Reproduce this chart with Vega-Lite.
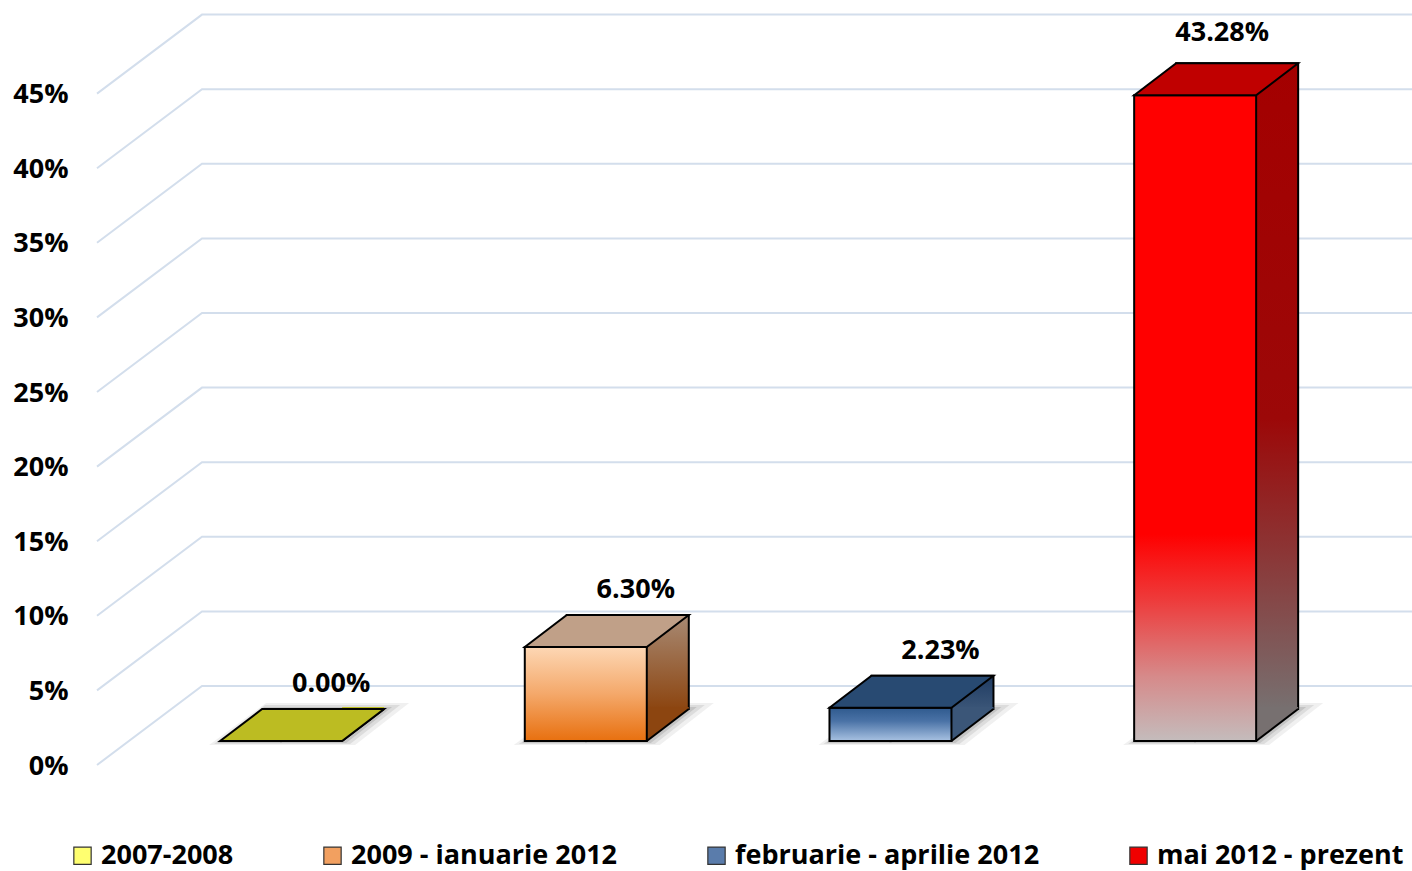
{
  "$schema": "https://vega.github.io/schema/vega-lite/v6.json",
  "width": 1315,
  "height": 727,
  "autosize": {"type": "none"},
  "padding": {"left": 97, "top": 14, "right": 0, "bottom": 130},
  "background": "white",
  "config": {"view": {"stroke": null}, "font": "Open Sans"},
  "datasets": {
    "bars": [
      {"period": "2007-2008", "share": 0.0},
      {"period": "2009 - ianuarie 2012", "share": 0.063},
      {"period": "februarie - aprilie 2012", "share": 0.0223},
      {"period": "mai 2012 - prezent", "share": 0.4328}
    ],
    "grid": [
      {"tick": 0}, {"tick": 0.05}, {"tick": 0.1}, {"tick": 0.15}, {"tick": 0.2},
      {"tick": 0.25}, {"tick": 0.3}, {"tick": 0.35}, {"tick": 0.4}, {"tick": 0.45}
    ]
  },
  "data": {"name": "bars"},
  "resolve": {"scale": {"fill": "independent"}},
  "layer": [
    {
      "data": {"name": "grid"},
      "mark": {"type": "point", "shape": "M-657.5,24 L-552.5,-55 L657.5,-55", "size": 4, "filled": false, "stroke": "#d3deec", "strokeWidth": 2, "opacity": 1},
      "encoding": {
        "y": {
          "field": "tick", "type": "quantitative",
          "scale": {"domain": [0, 0.48727], "nice": false, "zero": true},
          "axis": {
            "values": [0, 0.05, 0.1, 0.15, 0.2, 0.25, 0.3, 0.35, 0.4, 0.45],
            "format": ".0%", "title": null, "domain": false, "ticks": false, "grid": false,
            "labelOffset": 25, "labelPadding": 29, "labelFont": "Open Sans", "labelFontSize": 27,
            "labelFontWeight": "bold", "labelColor": "#000000"
          }
        }
      }
    },
    {
      "mark": {"type": "point", "shape": "square", "filled": true, "size": 1, "opacity": 1, "stroke": "#333333", "strokeWidth": 1.2},
      "encoding": {
        "x": {"field": "period", "type": "nominal", "sort": null, "axis": null, "scale": {"paddingInner": 0, "paddingOuter": 0.158, "align": 0.33}},
        "y": {"datum": 0, "type": "quantitative"},
        "fill": {
          "field": "period", "type": "nominal", "sort": null,
          "scale": {"domain": ["2007-2008", "2009 - ianuarie 2012", "februarie - aprilie 2012", "mai 2012 - prezent"], "range": ["#ffff70", "#f2a060", "#5a7cab", "#f00000"]},
          "legend": {
            "orient": "none", "legendX": -28, "legendY": 828, "direction": "horizontal", "columns": 4,
            "title": null, "symbolType": "square", "symbolSize": 300, "symbolStrokeColor": "#333333", "symbolStrokeWidth": 1.2,
            "labelFont": "Open Sans", "labelFontSize": 27, "labelFontWeight": "bold", "labelColor": "#000000",
            "labelOffset": 5, "columnPadding": 85, "labelLimit": 500
          }
        }
      }
    },
    {
      "mark": {"type": "point", "shape": "M-72,4 L-15,-38 L128,-38 L74,4 Z", "size": 4, "filled": true, "opacity": 0.07, "fill": "#303030", "strokeWidth": 0},
      "encoding": {"x": {"field": "period", "type": "nominal", "sort": null, "axis": null}, "y": {"datum": 0, "type": "quantitative"}}
    },
    {
      "mark": {"type": "point", "shape": "M-67,3 L-16,-36 L119,-36 L69,3 Z", "size": 4, "filled": true, "opacity": 0.1, "fill": "#303030", "strokeWidth": 0},
      "encoding": {"x": {"field": "period", "type": "nominal", "sort": null, "axis": null}, "y": {"datum": 0, "type": "quantitative"}}
    },
    {
      "mark": {"type": "point", "shape": "M-64,2 L-17,-34 L111,-34 L65,2 Z", "size": 4, "filled": true, "opacity": 0.14, "fill": "#303030", "strokeWidth": 0},
      "encoding": {"x": {"field": "period", "type": "nominal", "sort": null, "axis": null}, "y": {"datum": 0, "type": "quantitative"}}
    },
    {
      "transform": [{"filter": "datum.period === '2009 - ianuarie 2012'"}],
      "mark": {"type": "bar", "width": 122, "xOffset": 42, "yOffset": -32, "y2Offset": -32, "stroke": "#000000", "strokeWidth": 2,
        "fill": {"gradient": "linear", "x1": 0, "y1": 0, "x2": 0, "y2": 1, "stops": [{"offset": 0, "color": "#a88a74"}, {"offset": 1, "color": "#8c4510"}]}},
      "encoding": {"x": {"field": "period", "type": "nominal", "sort": null, "axis": null}, "y": {"field": "share", "type": "quantitative"}}
    },
    {
      "transform": [{"filter": "datum.period === 'februarie - aprilie 2012'"}],
      "mark": {"type": "bar", "width": 122, "xOffset": 42, "yOffset": -32, "y2Offset": -32, "stroke": "#000000", "strokeWidth": 2,
        "fill": {"gradient": "linear", "x1": 0, "y1": 0, "x2": 0, "y2": 1, "stops": [{"offset": 0, "color": "#1f3b62"}, {"offset": 1, "color": "#3b5678"}]}},
      "encoding": {"x": {"field": "period", "type": "nominal", "sort": null, "axis": null}, "y": {"field": "share", "type": "quantitative"}}
    },
    {
      "transform": [{"filter": "datum.period === 'mai 2012 - prezent'"}],
      "mark": {"type": "bar", "width": 122, "xOffset": 42, "yOffset": -32, "y2Offset": -32, "stroke": "#000000", "strokeWidth": 2,
        "fill": {"gradient": "linear", "x1": 0, "y1": 0, "x2": 0, "y2": 1, "stops": [{"offset": 0, "color": "#a40000"}, {"offset": 0.55, "color": "#9c0808"}, {"offset": 0.75, "color": "#8c3434"}, {"offset": 1, "color": "#777070"}]}},
      "encoding": {"x": {"field": "period", "type": "nominal", "sort": null, "axis": null}, "y": {"field": "share", "type": "quantitative"}}
    },
    {
      "mark": {"type": "point", "shape": "M61,0 L103,-32 L103,-34 L61,-34 Z", "size": 4, "filled": true, "opacity": 1, "strokeWidth": 0},
      "encoding": {
        "x": {"field": "period", "type": "nominal", "sort": null, "axis": null},
        "y": {"datum": 0, "type": "quantitative"},
        "fill": {"field": "period", "type": "nominal", "sort": null, "legend": null,
          "scale": {"domain": ["2007-2008", "2009 - ianuarie 2012", "februarie - aprilie 2012", "mai 2012 - prezent"], "range": ["#bcbc22", "#8c4510", "#3b5678", "#777070"]}}
      }
    },
    {
      "mark": {"type": "point", "shape": "M61,0 L103,-32", "size": 4, "filled": false, "opacity": 1, "stroke": "#000000", "strokeWidth": 2},
      "encoding": {
        "x": {"field": "period", "type": "nominal", "sort": null, "axis": null},
        "y": {"datum": 0, "type": "quantitative"}
      }
    },
    {
      "transform": [{"filter": "datum.period === '2009 - ianuarie 2012'"}],
      "mark": {"type": "bar", "width": 122, "stroke": "#000000", "strokeWidth": 2,
        "fill": {"gradient": "linear", "x1": 0, "y1": 0, "x2": 0, "y2": 1, "stops": [{"offset": 0, "color": "#fdd7b4"}, {"offset": 0.5, "color": "#f4a86a"}, {"offset": 1, "color": "#e8700f"}]}},
      "encoding": {"x": {"field": "period", "type": "nominal", "sort": null, "axis": null}, "y": {"field": "share", "type": "quantitative"}}
    },
    {
      "transform": [{"filter": "datum.period === 'februarie - aprilie 2012'"}],
      "mark": {"type": "bar", "width": 122, "stroke": "#000000", "strokeWidth": 2,
        "fill": {"gradient": "linear", "x1": 0, "y1": 0, "x2": 0, "y2": 1, "stops": [{"offset": 0, "color": "#2f5a8e"}, {"offset": 0.4, "color": "#4a72a6"}, {"offset": 1, "color": "#a8c2e2"}]}},
      "encoding": {"x": {"field": "period", "type": "nominal", "sort": null, "axis": null}, "y": {"field": "share", "type": "quantitative"}}
    },
    {
      "transform": [{"filter": "datum.period === 'mai 2012 - prezent'"}],
      "mark": {"type": "bar", "width": 122, "stroke": "#000000", "strokeWidth": 2,
        "fill": {"gradient": "linear", "x1": 0, "y1": 0, "x2": 0, "y2": 1, "stops": [{"offset": 0, "color": "#ff0000"}, {"offset": 0.68, "color": "#ff0000"}, {"offset": 0.78, "color": "#ee3a3a"}, {"offset": 0.9, "color": "#d68a8a"}, {"offset": 1, "color": "#c4bcbc"}]}},
      "encoding": {"x": {"field": "period", "type": "nominal", "sort": null, "axis": null}, "y": {"field": "share", "type": "quantitative"}}
    },
    {
      "mark": {"type": "point", "shape": "M-61,0 L-19,-32 L103,-32 L61,0 Z", "size": 4, "filled": true, "opacity": 1, "stroke": "#000000", "strokeWidth": 2},
      "encoding": {
        "x": {"field": "period", "type": "nominal", "sort": null, "axis": null},
        "y": {"field": "share", "type": "quantitative"},
        "fill": {"field": "period", "type": "nominal", "sort": null, "legend": null,
          "scale": {"domain": ["2007-2008", "2009 - ianuarie 2012", "februarie - aprilie 2012", "mai 2012 - prezent"], "range": ["#bcbc22", "#c0a088", "#284a72", "#c00000"]}}
      }
    },
    {
      "transform": [{"filter": "datum.share < 0.4"}],
      "mark": {"type": "text", "xOffset": 50, "yOffset": -57, "font": "Open Sans", "fontSize": 27, "fontWeight": "bold", "color": "#000000", "baseline": "middle", "align": "center"},
      "encoding": {
        "x": {"field": "period", "type": "nominal", "sort": null, "axis": null},
        "y": {"field": "share", "type": "quantitative"},
        "text": {"field": "share", "type": "quantitative", "format": ".2%"}
      }
    },
    {
      "transform": [{"filter": "datum.share >= 0.4"}],
      "mark": {"type": "text", "xOffset": 27, "yOffset": -62, "font": "Open Sans", "fontSize": 27, "fontWeight": "bold", "color": "#000000", "baseline": "middle", "align": "center"},
      "encoding": {
        "x": {"field": "period", "type": "nominal", "sort": null, "axis": null},
        "y": {"field": "share", "type": "quantitative"},
        "text": {"field": "share", "type": "quantitative", "format": ".2%"}
      }
    }
  ]
}
